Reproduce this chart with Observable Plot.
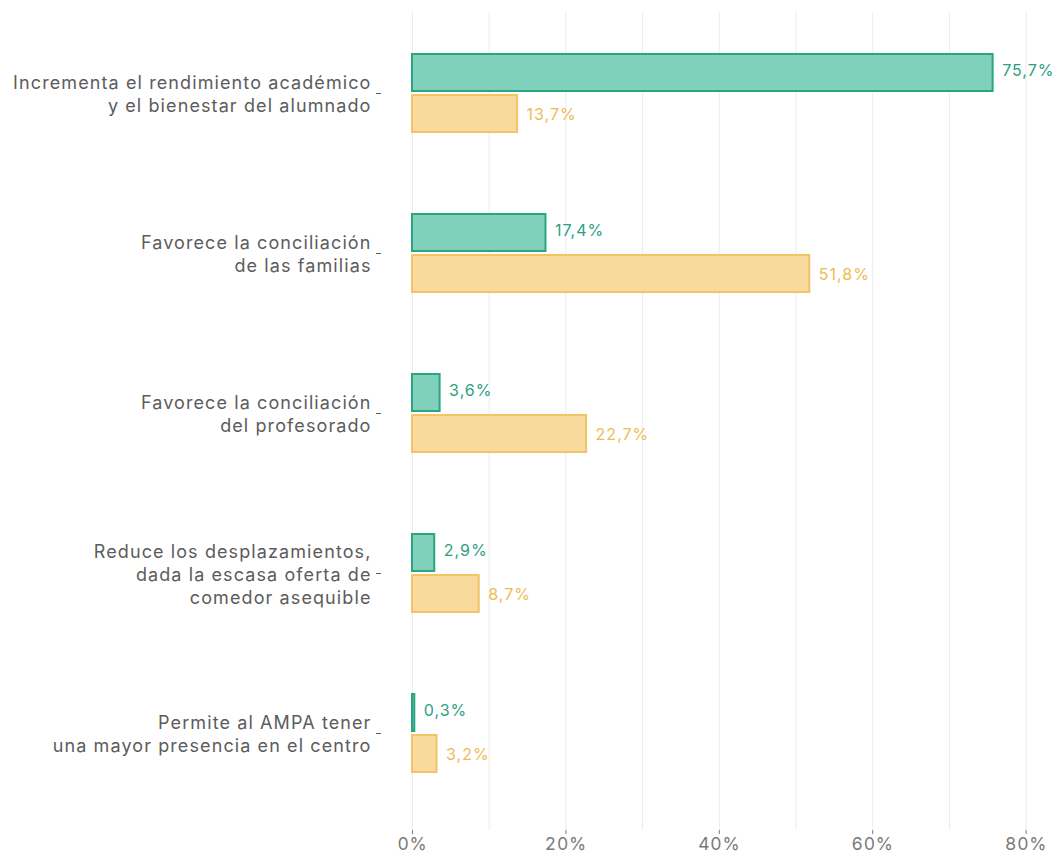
<!DOCTYPE html>
<html>
<head>
<meta charset="utf-8">
<script src="https://cdn.jsdelivr.net/npm/d3@7"></script>
<script src="https://cdn.jsdelivr.net/npm/@observablehq/plot@0.6"></script>
<style>
  html, body { margin: 0; padding: 0; background: #ffffff; }
  #chart { width: 1054px; height: 856px; overflow: hidden; }
  #chart svg g[aria-label="y-axis tick label"] text { letter-spacing: 1.1px; }
  #chart svg g[aria-label="x-axis tick label"] text { letter-spacing: 0.8px; }
  #chart svg g[aria-label="text"] text { letter-spacing: 1px; }
</style>
</head>
<body>
<div id="chart"></div>
<script>
// Categories (y axis, multi-line labels)
const categories = [
  "Incrementa el rendimiento académico\ny el bienestar del alumnado",
  "Favorece la conciliación\nde las familias",
  "Favorece la conciliación\ndel profesorado",
  "Reduce los desplazamientos,\ndada la escasa oferta de\ncomedor asequible",
  "Permite al AMPA tener\nuna mayor presencia en el centro"
];
// Series values (%)
const seriesGreen = [75.7, 17.4, 3.6, 2.9, 0.3];
const seriesYellow = [13.7, 51.8, 22.7, 8.7, 3.2];
// Axis ticks
const xTicks = [0, 20, 40, 60, 80];
const gridTicks = [0, 10, 20, 30, 40, 50, 60, 70, 80];

const rowsGreen = categories.map((c, i) => ({category: c, value: seriesGreen[i]}));
const rowsYellow = categories.map((c, i) => ({category: c, value: seriesYellow[i]}));
const fmt = v => v.toFixed(1).replace(".", ",") + "%";

const chart = Plot.plot({
  width: 1054,
  height: 856,
  marginLeft: 381,
  marginRight: 0,
  marginTop: 12,
  marginBottom: 26,
  style: {fontFamily: "Inter, 'Noto Sans', sans-serif", background: "#ffffff", overflow: "hidden"},
  x: {domain: [0, 83.7], insetLeft: 31},
  y: {domain: categories, padding: 0, insetTop: 1, insetBottom: 17},
  marks: [
    Plot.gridX(gridTicks, {stroke: "#ececec", strokeOpacity: 1, strokeWidth: 1}),
    Plot.axisX(xTicks, {
      tickFormat: d => d + "%", tickSize: 4, tickPadding: 3,
      fontSize: 17.5, color: "#7a7a7a", label: null
    }),
    Plot.axisY({
      tickSize: 5, tickPadding: 5, fontSize: 18, lineHeight: 1.28,
      color: "#5c5c5c", label: null
    }),
    Plot.barX(rowsGreen, {
      x: "value", y: "category", insetTop: 41, insetBottom: 82,
      fill: "#7fd1bb", stroke: "#2aa582", strokeWidth: 2
    }),
    Plot.barX(rowsYellow, {
      x: "value", y: "category", insetTop: 82, insetBottom: 41,
      fill: "#f8d99e", stroke: "#f1c465", strokeWidth: 2
    }),
    Plot.text(rowsGreen, {
      x: "value", y: "category", text: d => fmt(d.value),
      dx: 9, dy: -23, textAnchor: "start", fill: "#2b9f7f", fontSize: 16
    }),
    Plot.text(rowsYellow, {
      x: "value", y: "category", text: d => fmt(d.value),
      dx: 9, dy: 21, textAnchor: "start", fill: "#f0bb50", fontSize: 16
    })
  ]
});
document.getElementById("chart").appendChild(chart);
</script>
</body>
</html>
